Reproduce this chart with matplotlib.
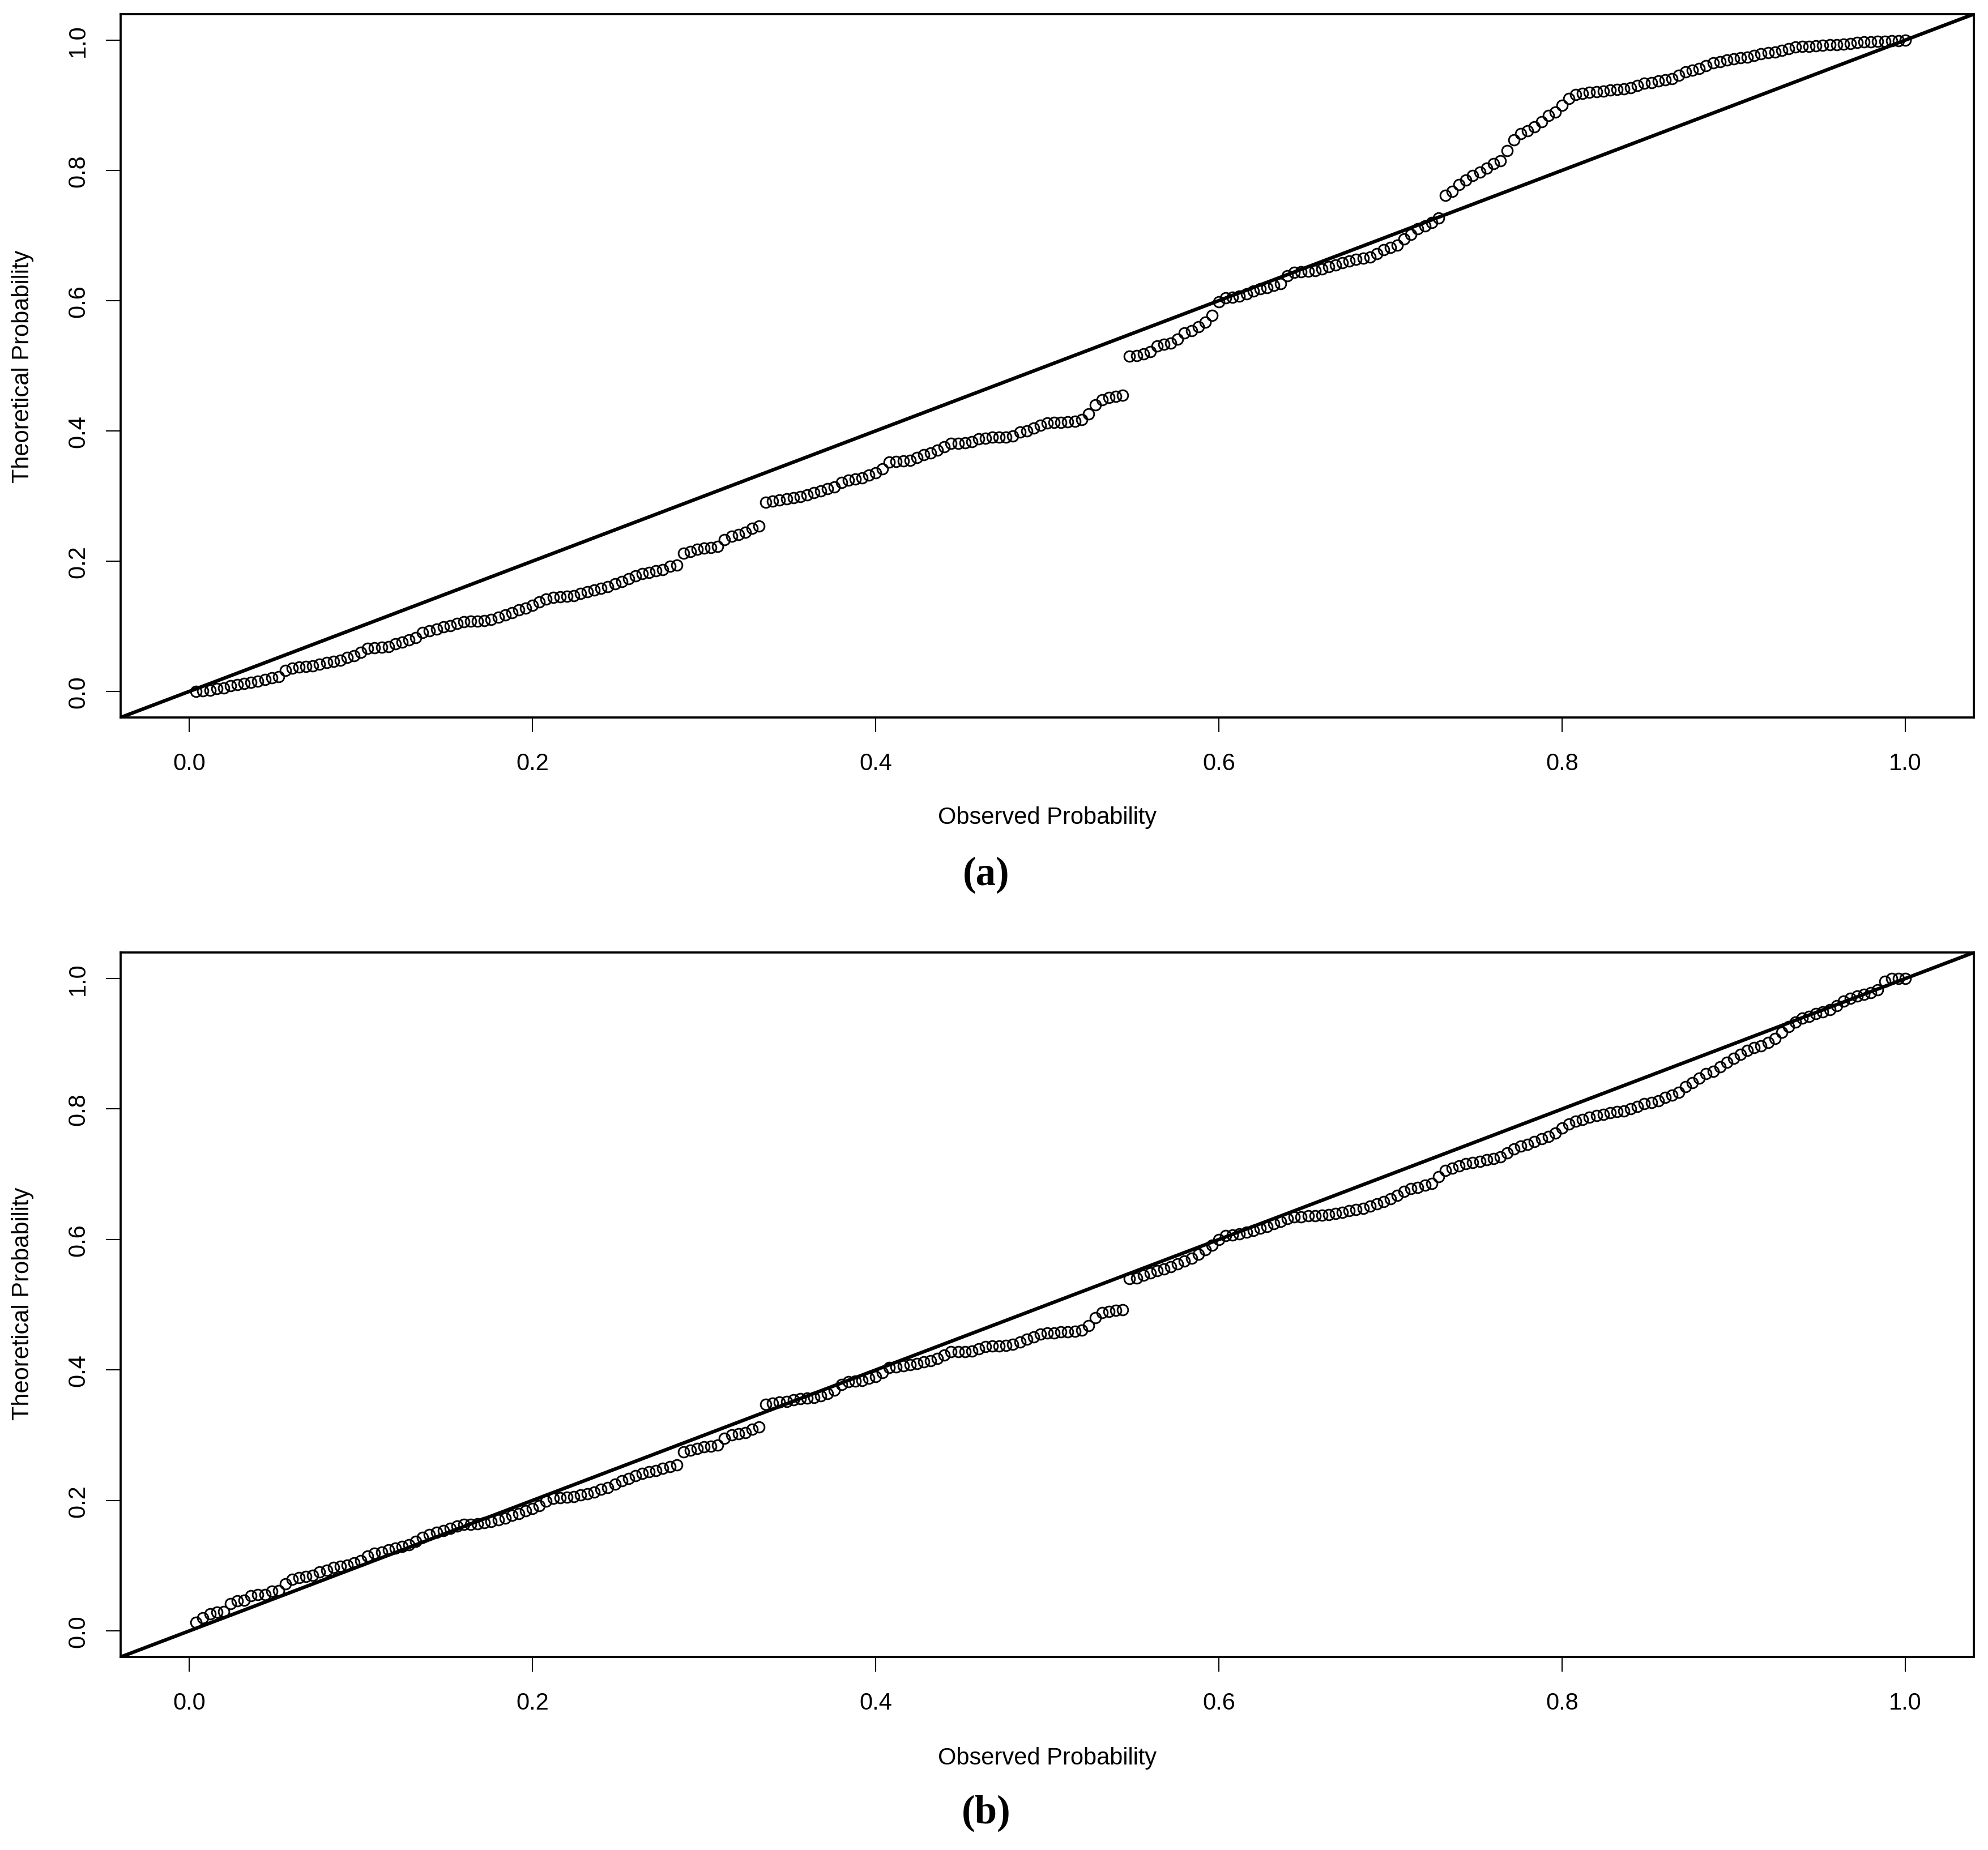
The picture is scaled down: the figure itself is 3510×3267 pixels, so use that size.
"""P-P plots: observed vs theoretical probability, panels (a) and (b)"""

import matplotlib
matplotlib.use("Agg")
import matplotlib.pyplot as plt

plt.rcParams["font.family"] = ["Liberation Sans", "DejaVu Sans"]

# Observed probabilities (shared by both panels)
observed = [
    0.004, 0.008, 0.012, 0.016, 0.020, 0.024, 0.028, 0.032, 0.036, 0.040,
    0.044, 0.048, 0.052, 0.056, 0.060, 0.064, 0.068, 0.072, 0.076, 0.080,
    0.084, 0.088, 0.092, 0.096, 0.100, 0.104, 0.108, 0.112, 0.116, 0.120,
    0.124, 0.128, 0.132, 0.136, 0.140, 0.144, 0.148, 0.152, 0.156, 0.160,
    0.164, 0.168, 0.172, 0.176, 0.180, 0.184, 0.188, 0.192, 0.196, 0.200,
    0.204, 0.208, 0.212, 0.216, 0.220, 0.224, 0.228, 0.232, 0.236, 0.240,
    0.244, 0.248, 0.252, 0.256, 0.260, 0.264, 0.268, 0.272, 0.276, 0.280,
    0.284, 0.288, 0.292, 0.296, 0.300, 0.304, 0.308, 0.312, 0.316, 0.320,
    0.324, 0.328, 0.332, 0.336, 0.340, 0.344, 0.348, 0.352, 0.356, 0.360,
    0.364, 0.368, 0.372, 0.376, 0.380, 0.384, 0.388, 0.392, 0.396, 0.400,
    0.404, 0.408, 0.412, 0.416, 0.420, 0.424, 0.428, 0.432, 0.436, 0.440,
    0.444, 0.448, 0.452, 0.456, 0.460, 0.464, 0.468, 0.472, 0.476, 0.480,
    0.484, 0.488, 0.492, 0.496, 0.500, 0.504, 0.508, 0.512, 0.516, 0.520,
    0.524, 0.528, 0.532, 0.536, 0.540, 0.544, 0.548, 0.552, 0.556, 0.560,
    0.564, 0.568, 0.572, 0.576, 0.580, 0.584, 0.588, 0.592, 0.596, 0.600,
    0.604, 0.608, 0.612, 0.616, 0.620, 0.624, 0.628, 0.632, 0.636, 0.640,
    0.644, 0.648, 0.652, 0.656, 0.660, 0.664, 0.668, 0.672, 0.676, 0.680,
    0.684, 0.688, 0.692, 0.696, 0.700, 0.704, 0.708, 0.712, 0.716, 0.720,
    0.724, 0.728, 0.732, 0.736, 0.740, 0.744, 0.748, 0.752, 0.756, 0.760,
    0.764, 0.768, 0.772, 0.776, 0.780, 0.784, 0.788, 0.792, 0.796, 0.800,
    0.804, 0.808, 0.812, 0.816, 0.820, 0.824, 0.828, 0.832, 0.836, 0.840,
    0.844, 0.848, 0.852, 0.856, 0.860, 0.864, 0.868, 0.872, 0.876, 0.880,
    0.884, 0.888, 0.892, 0.896, 0.900, 0.904, 0.908, 0.912, 0.916, 0.920,
    0.924, 0.928, 0.932, 0.936, 0.940, 0.944, 0.948, 0.952, 0.956, 0.960,
    0.964, 0.968, 0.972, 0.976, 0.980, 0.984, 0.988, 0.992, 0.996, 1.000,
]

# Theoretical probabilities, panel (a)
theoretical_a = [
    0.000, 0.001, 0.002, 0.004, 0.005, 0.009, 0.010, 0.012, 0.014, 0.016,
    0.018, 0.021, 0.023, 0.032, 0.036, 0.037, 0.038, 0.039, 0.042, 0.044,
    0.046, 0.048, 0.052, 0.055, 0.060, 0.066, 0.067, 0.068, 0.069, 0.073,
    0.076, 0.079, 0.083, 0.090, 0.093, 0.096, 0.099, 0.101, 0.104, 0.107,
    0.108, 0.108, 0.109, 0.110, 0.114, 0.117, 0.121, 0.125, 0.128, 0.132,
    0.137, 0.142, 0.144, 0.145, 0.146, 0.147, 0.150, 0.153, 0.156, 0.158,
    0.161, 0.165, 0.169, 0.173, 0.177, 0.181, 0.183, 0.185, 0.187, 0.192,
    0.194, 0.212, 0.215, 0.218, 0.220, 0.221, 0.223, 0.233, 0.238, 0.241,
    0.244, 0.250, 0.254, 0.290, 0.292, 0.294, 0.296, 0.297, 0.299, 0.302,
    0.305, 0.308, 0.311, 0.314, 0.321, 0.324, 0.326, 0.328, 0.332, 0.336,
    0.342, 0.352, 0.353, 0.354, 0.355, 0.359, 0.363, 0.366, 0.370, 0.376,
    0.381, 0.381, 0.382, 0.383, 0.388, 0.389, 0.390, 0.390, 0.390, 0.392,
    0.398, 0.400, 0.404, 0.409, 0.412, 0.413, 0.413, 0.414, 0.415, 0.417,
    0.426, 0.440, 0.448, 0.451, 0.453, 0.455, 0.515, 0.516, 0.518, 0.522,
    0.530, 0.533, 0.535, 0.541, 0.550, 0.554, 0.560, 0.567, 0.577, 0.598,
    0.604, 0.605, 0.607, 0.610, 0.615, 0.618, 0.620, 0.623, 0.626, 0.638,
    0.643, 0.644, 0.645, 0.646, 0.649, 0.652, 0.655, 0.658, 0.661, 0.663,
    0.665, 0.667, 0.672, 0.678, 0.682, 0.685, 0.695, 0.702, 0.710, 0.715,
    0.720, 0.727, 0.762, 0.768, 0.778, 0.785, 0.792, 0.797, 0.803, 0.810,
    0.815, 0.830, 0.847, 0.856, 0.861, 0.867, 0.875, 0.884, 0.889, 0.900,
    0.910, 0.916, 0.918, 0.920, 0.921, 0.922, 0.923, 0.924, 0.925, 0.927,
    0.930, 0.934, 0.935, 0.937, 0.939, 0.941, 0.946, 0.951, 0.954, 0.956,
    0.961, 0.965, 0.967, 0.969, 0.971, 0.973, 0.974, 0.976, 0.979, 0.981,
    0.982, 0.984, 0.987, 0.989, 0.990, 0.990, 0.991, 0.992, 0.993, 0.993,
    0.994, 0.995, 0.996, 0.997, 0.997, 0.998, 0.998, 0.999, 0.999, 1.000,
]

# Theoretical probabilities, panel (b)
theoretical_b = [
    0.013, 0.020, 0.026, 0.029, 0.030, 0.042, 0.046, 0.047, 0.054, 0.056,
    0.056, 0.061, 0.062, 0.072, 0.079, 0.082, 0.083, 0.085, 0.090, 0.093,
    0.097, 0.099, 0.101, 0.104, 0.108, 0.115, 0.119, 0.121, 0.124, 0.127,
    0.129, 0.132, 0.137, 0.143, 0.148, 0.151, 0.154, 0.157, 0.161, 0.163,
    0.163, 0.164, 0.166, 0.168, 0.170, 0.173, 0.177, 0.180, 0.184, 0.188,
    0.192, 0.199, 0.203, 0.204, 0.205, 0.206, 0.208, 0.210, 0.213, 0.217,
    0.220, 0.225, 0.230, 0.234, 0.238, 0.241, 0.244, 0.246, 0.249, 0.252,
    0.254, 0.274, 0.277, 0.280, 0.282, 0.283, 0.285, 0.295, 0.300, 0.302,
    0.304, 0.309, 0.313, 0.347, 0.349, 0.351, 0.352, 0.354, 0.356, 0.357,
    0.358, 0.360, 0.364, 0.369, 0.378, 0.382, 0.383, 0.384, 0.387, 0.390,
    0.396, 0.404, 0.405, 0.406, 0.408, 0.410, 0.412, 0.414, 0.418, 0.423,
    0.428, 0.428, 0.428, 0.429, 0.432, 0.436, 0.437, 0.437, 0.438, 0.439,
    0.443, 0.447, 0.451, 0.455, 0.457, 0.457, 0.458, 0.458, 0.459, 0.461,
    0.468, 0.480, 0.488, 0.490, 0.491, 0.492, 0.540, 0.541, 0.545, 0.549,
    0.552, 0.555, 0.558, 0.563, 0.567, 0.571, 0.577, 0.584, 0.591, 0.600,
    0.606, 0.607, 0.609, 0.611, 0.614, 0.617, 0.620, 0.624, 0.628, 0.632,
    0.635, 0.635, 0.636, 0.636, 0.637, 0.638, 0.640, 0.642, 0.644, 0.646,
    0.648, 0.651, 0.655, 0.658, 0.662, 0.668, 0.674, 0.678, 0.680, 0.683,
    0.686, 0.696, 0.706, 0.709, 0.713, 0.716, 0.718, 0.720, 0.722, 0.724,
    0.727, 0.733, 0.739, 0.743, 0.746, 0.750, 0.754, 0.758, 0.763, 0.771,
    0.777, 0.781, 0.784, 0.787, 0.790, 0.792, 0.794, 0.796, 0.797, 0.800,
    0.804, 0.808, 0.810, 0.813, 0.818, 0.821, 0.826, 0.834, 0.840, 0.847,
    0.854, 0.858, 0.865, 0.872, 0.878, 0.884, 0.890, 0.894, 0.897, 0.902,
    0.908, 0.918, 0.926, 0.933, 0.939, 0.942, 0.946, 0.949, 0.952, 0.958,
    0.965, 0.970, 0.973, 0.976, 0.978, 0.983, 0.996, 1.000, 1.000, 1.000,
]

tick_values = [0.0, 0.2, 0.4, 0.6, 0.8, 1.0]
tick_labels = ["0.0", "0.2", "0.4", "0.6", "0.8", "1.0"]

fig = plt.figure(figsize=(11.7, 10.8933), dpi=300)

# axes boxes (left, bottom, width, height) in figure fractions
boxes = [[0.0607, 0.6120, 0.9322, 0.3801],
         [0.0607, 0.1043, 0.9322, 0.3807]]
series = [theoretical_a, theoretical_b]
panel_tags = ["(a)", "(b)"]
xlabel_y = [0.5581, 0.0499]
tag_y = [0.5272, 0.0200]
ylabel_y = [0.802, 0.2955]

for box, theo, tag, xl_y, tg_y, yl_y in zip(boxes, series, panel_tags, xlabel_y, tag_y, ylabel_y):
    ax = fig.add_axes(box)

    # open circles, R style
    ax.plot(observed, theo, linestyle="none", marker="o", markersize=4.5,
            markerfacecolor="none", markeredgecolor="black", markeredgewidth=0.7)
    ax.margins(x=0.04, y=0.04)

    # 45 degree reference line across the whole box
    ax.axline((0, 0), slope=1, color="black", linewidth=1.5)

    ax.set_xticks(tick_values)
    ax.set_xticklabels(tick_labels)
    ax.set_yticks(tick_values)
    ax.set_yticklabels(tick_labels, rotation=90, va="center")
    ax.tick_params(axis="both", direction="out", length=6.2, width=0.5,
                   labelsize=10, color="black")
    ax.tick_params(axis="x", pad=8.5)
    ax.tick_params(axis="y", pad=7)
    for s in ax.spines.values():
        s.set_linewidth(0.9)

    fig.text(0.5268, xl_y, "Observed Probability", fontsize=10,
             ha="center", va="center")
    fig.text(0.0114, yl_y, "Theoretical Probability", fontsize=10,
             rotation=90, ha="center", va="center")
    fig.text(0.496, tg_y, tag, fontsize=17, fontweight="bold",
             family=["Liberation Serif", "DejaVu Serif"], ha="center", va="center")

fig.savefig("out.png", dpi=300)
